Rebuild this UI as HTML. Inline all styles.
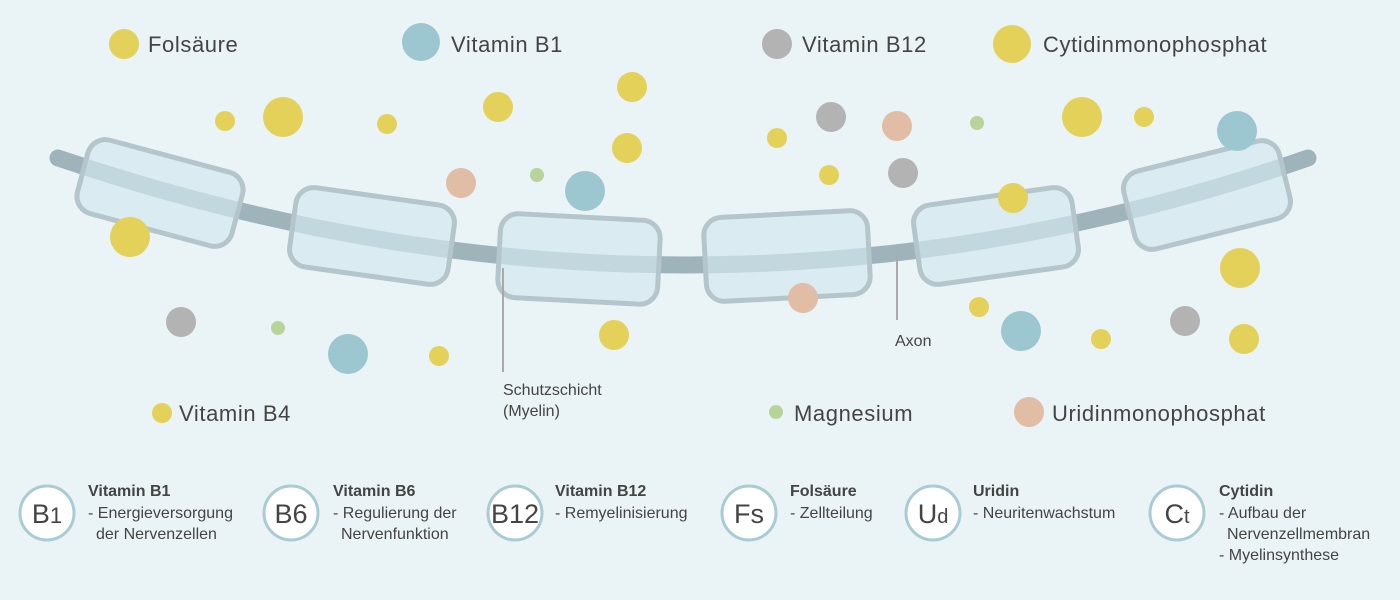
<!DOCTYPE html>
<html><head><meta charset="utf-8"><style>
html,body{margin:0;padding:0;background:#eaf4f7;}
svg{display:block;font-family:"Liberation Sans",sans-serif;}
.t{font-size:22px;fill:#444;letter-spacing:0.6px;}
.s{font-size:16px;fill:#444;}
.b{font-size:16px;fill:#444;font-weight:bold;}
.c{font-size:27px;fill:#444;}
</style></head><body>
<svg width="1400" height="600" viewBox="0 0 1400 600">
<rect width="1400" height="600" fill="#eaf4f7"/>
<path d="M58,158 Q690,372 1308,158" fill="none" stroke="#9fb3ba" stroke-width="17" stroke-linecap="round"/>
<g fill="#d3e8ee" fill-opacity="0.7" stroke="#b4c6cc" stroke-width="5">
<rect x="-80" y="-38" width="160" height="76" rx="18" transform="translate(160,193) rotate(15)"/>
<rect x="-80" y="-40" width="160" height="80" rx="18" transform="translate(372,236) rotate(8)"/>
<rect x="-80" y="-42" width="160" height="84" rx="18" transform="translate(579,259) rotate(3)"/>
<rect x="-82" y="-42" width="164" height="84" rx="18" transform="translate(787,256) rotate(-3)"/>
<rect x="-80" y="-40" width="160" height="80" rx="18" transform="translate(996,236) rotate(-8)"/>
<rect x="-80" y="-40" width="160" height="80" rx="18" transform="translate(1207,195) rotate(-14)"/>
</g>
<g>
<circle cx="124" cy="44" r="15" fill="#e3d15a"/>
<circle cx="421" cy="42" r="19" fill="#9cc6d0"/>
<circle cx="777" cy="44" r="15" fill="#b3b3b3"/>
<circle cx="1012" cy="44" r="19" fill="#e3d15a"/>
<circle cx="225" cy="121" r="10" fill="#e3d15a"/>
<circle cx="283" cy="117" r="20" fill="#e3d15a"/>
<circle cx="387" cy="124" r="10" fill="#e3d15a"/>
<circle cx="498" cy="107" r="15" fill="#e3d15a"/>
<circle cx="632" cy="87" r="15" fill="#e3d15a"/>
<circle cx="627" cy="148" r="15" fill="#e3d15a"/>
<circle cx="461" cy="183" r="15" fill="#e0bda4"/>
<circle cx="537" cy="175" r="7" fill="#b8d49a"/>
<circle cx="585" cy="191" r="20" fill="#9cc6d0"/>
<circle cx="130" cy="237" r="20" fill="#e3d15a"/>
<circle cx="181" cy="322" r="15" fill="#b3b3b3"/>
<circle cx="278" cy="328" r="7" fill="#b8d49a"/>
<circle cx="348" cy="354" r="20" fill="#9cc6d0"/>
<circle cx="439" cy="356" r="10" fill="#e3d15a"/>
<circle cx="614" cy="335" r="15" fill="#e3d15a"/>
<circle cx="803" cy="298" r="15" fill="#e0bda4"/>
<circle cx="777" cy="138" r="10" fill="#e3d15a"/>
<circle cx="831" cy="117" r="15" fill="#b3b3b3"/>
<circle cx="897" cy="126" r="15" fill="#e0bda4"/>
<circle cx="829" cy="175" r="10" fill="#e3d15a"/>
<circle cx="903" cy="173" r="15" fill="#b3b3b3"/>
<circle cx="977" cy="123" r="7" fill="#b8d49a"/>
<circle cx="1013" cy="198" r="15" fill="#e3d15a"/>
<circle cx="1082" cy="117" r="20" fill="#e3d15a"/>
<circle cx="1144" cy="117" r="10" fill="#e3d15a"/>
<circle cx="1237" cy="131" r="20" fill="#9cc6d0"/>
<circle cx="1240" cy="268" r="20" fill="#e3d15a"/>
<circle cx="979" cy="307" r="10" fill="#e3d15a"/>
<circle cx="1021" cy="331" r="20" fill="#9cc6d0"/>
<circle cx="1101" cy="339" r="10" fill="#e3d15a"/>
<circle cx="1185" cy="321" r="15" fill="#b3b3b3"/>
<circle cx="1244" cy="339" r="15" fill="#e3d15a"/>
<circle cx="162" cy="413" r="10" fill="#e3d15a"/>
<circle cx="776" cy="412" r="7" fill="#b8d49a"/>
<circle cx="1029" cy="412" r="15" fill="#e0bda4"/>
</g>
<text class="t" x="148" y="52">Folsäure</text>
<text class="t" x="451" y="52">Vitamin B1</text>
<text class="t" x="802" y="52">Vitamin B12</text>
<text class="t" x="1043" y="52">Cytidinmonophosphat</text>
<text class="t" x="179" y="421">Vitamin B4</text>
<text class="t" x="794" y="421">Magnesium</text>
<text class="t" x="1052" y="421">Uridinmonophosphat</text>
<line x1="503" y1="268" x2="503" y2="372" stroke="#a9a9a9" stroke-width="2"/>
<line x1="897" y1="255" x2="897" y2="320" stroke="#a9a9a9" stroke-width="2"/>
<text class="s" x="503" y="395">Schutzschicht</text>
<text class="s" x="503" y="416">(Myelin)</text>
<text class="s" x="895" y="346">Axon</text>
<g fill="#fff" stroke="#a9ccd4" stroke-width="3">
<circle cx="47" cy="513" r="27"/>
<circle cx="291" cy="513" r="27"/>
<circle cx="515" cy="513" r="27"/>
<circle cx="749" cy="513" r="27"/>
<circle cx="933" cy="513" r="27"/>
<circle cx="1177" cy="513" r="27"/>
</g>
<g text-anchor="middle">
<text class="c" x="47" y="523">B<tspan font-size="22">1</tspan></text>
<text class="c" x="291" y="523">B6</text>
<text class="c" x="515" y="523" font-size="25">B12</text>
<text class="c" x="749" y="523">Fs</text>
<text class="c" x="933" y="523">U<tspan font-size="20">d</tspan></text>
<text class="c" x="1177" y="523">C<tspan font-size="20">t</tspan></text>
</g>
<text class="b" x="88" y="496">Vitamin B1</text>
<text class="s" x="88" y="518">- Energieversorgung</text>
<text class="s" x="96" y="539">der Nervenzellen</text>
<text class="b" x="333" y="496">Vitamin B6</text>
<text class="s" x="333" y="518">- Regulierung der</text>
<text class="s" x="341" y="539">Nervenfunktion</text>
<text class="b" x="555" y="496">Vitamin B12</text>
<text class="s" x="555" y="518">- Remyelinisierung</text>
<text class="b" x="790" y="496">Folsäure</text>
<text class="s" x="790" y="518">- Zellteilung</text>
<text class="b" x="973" y="496">Uridin</text>
<text class="s" x="973" y="518">- Neuritenwachstum</text>
<text class="b" x="1219" y="496">Cytidin</text>
<text class="s" x="1219" y="518">- Aufbau der</text>
<text class="s" x="1227" y="539">Nervenzellmembran</text>
<text class="s" x="1219" y="560">- Myelinsynthese</text>
</svg>
</body></html>
